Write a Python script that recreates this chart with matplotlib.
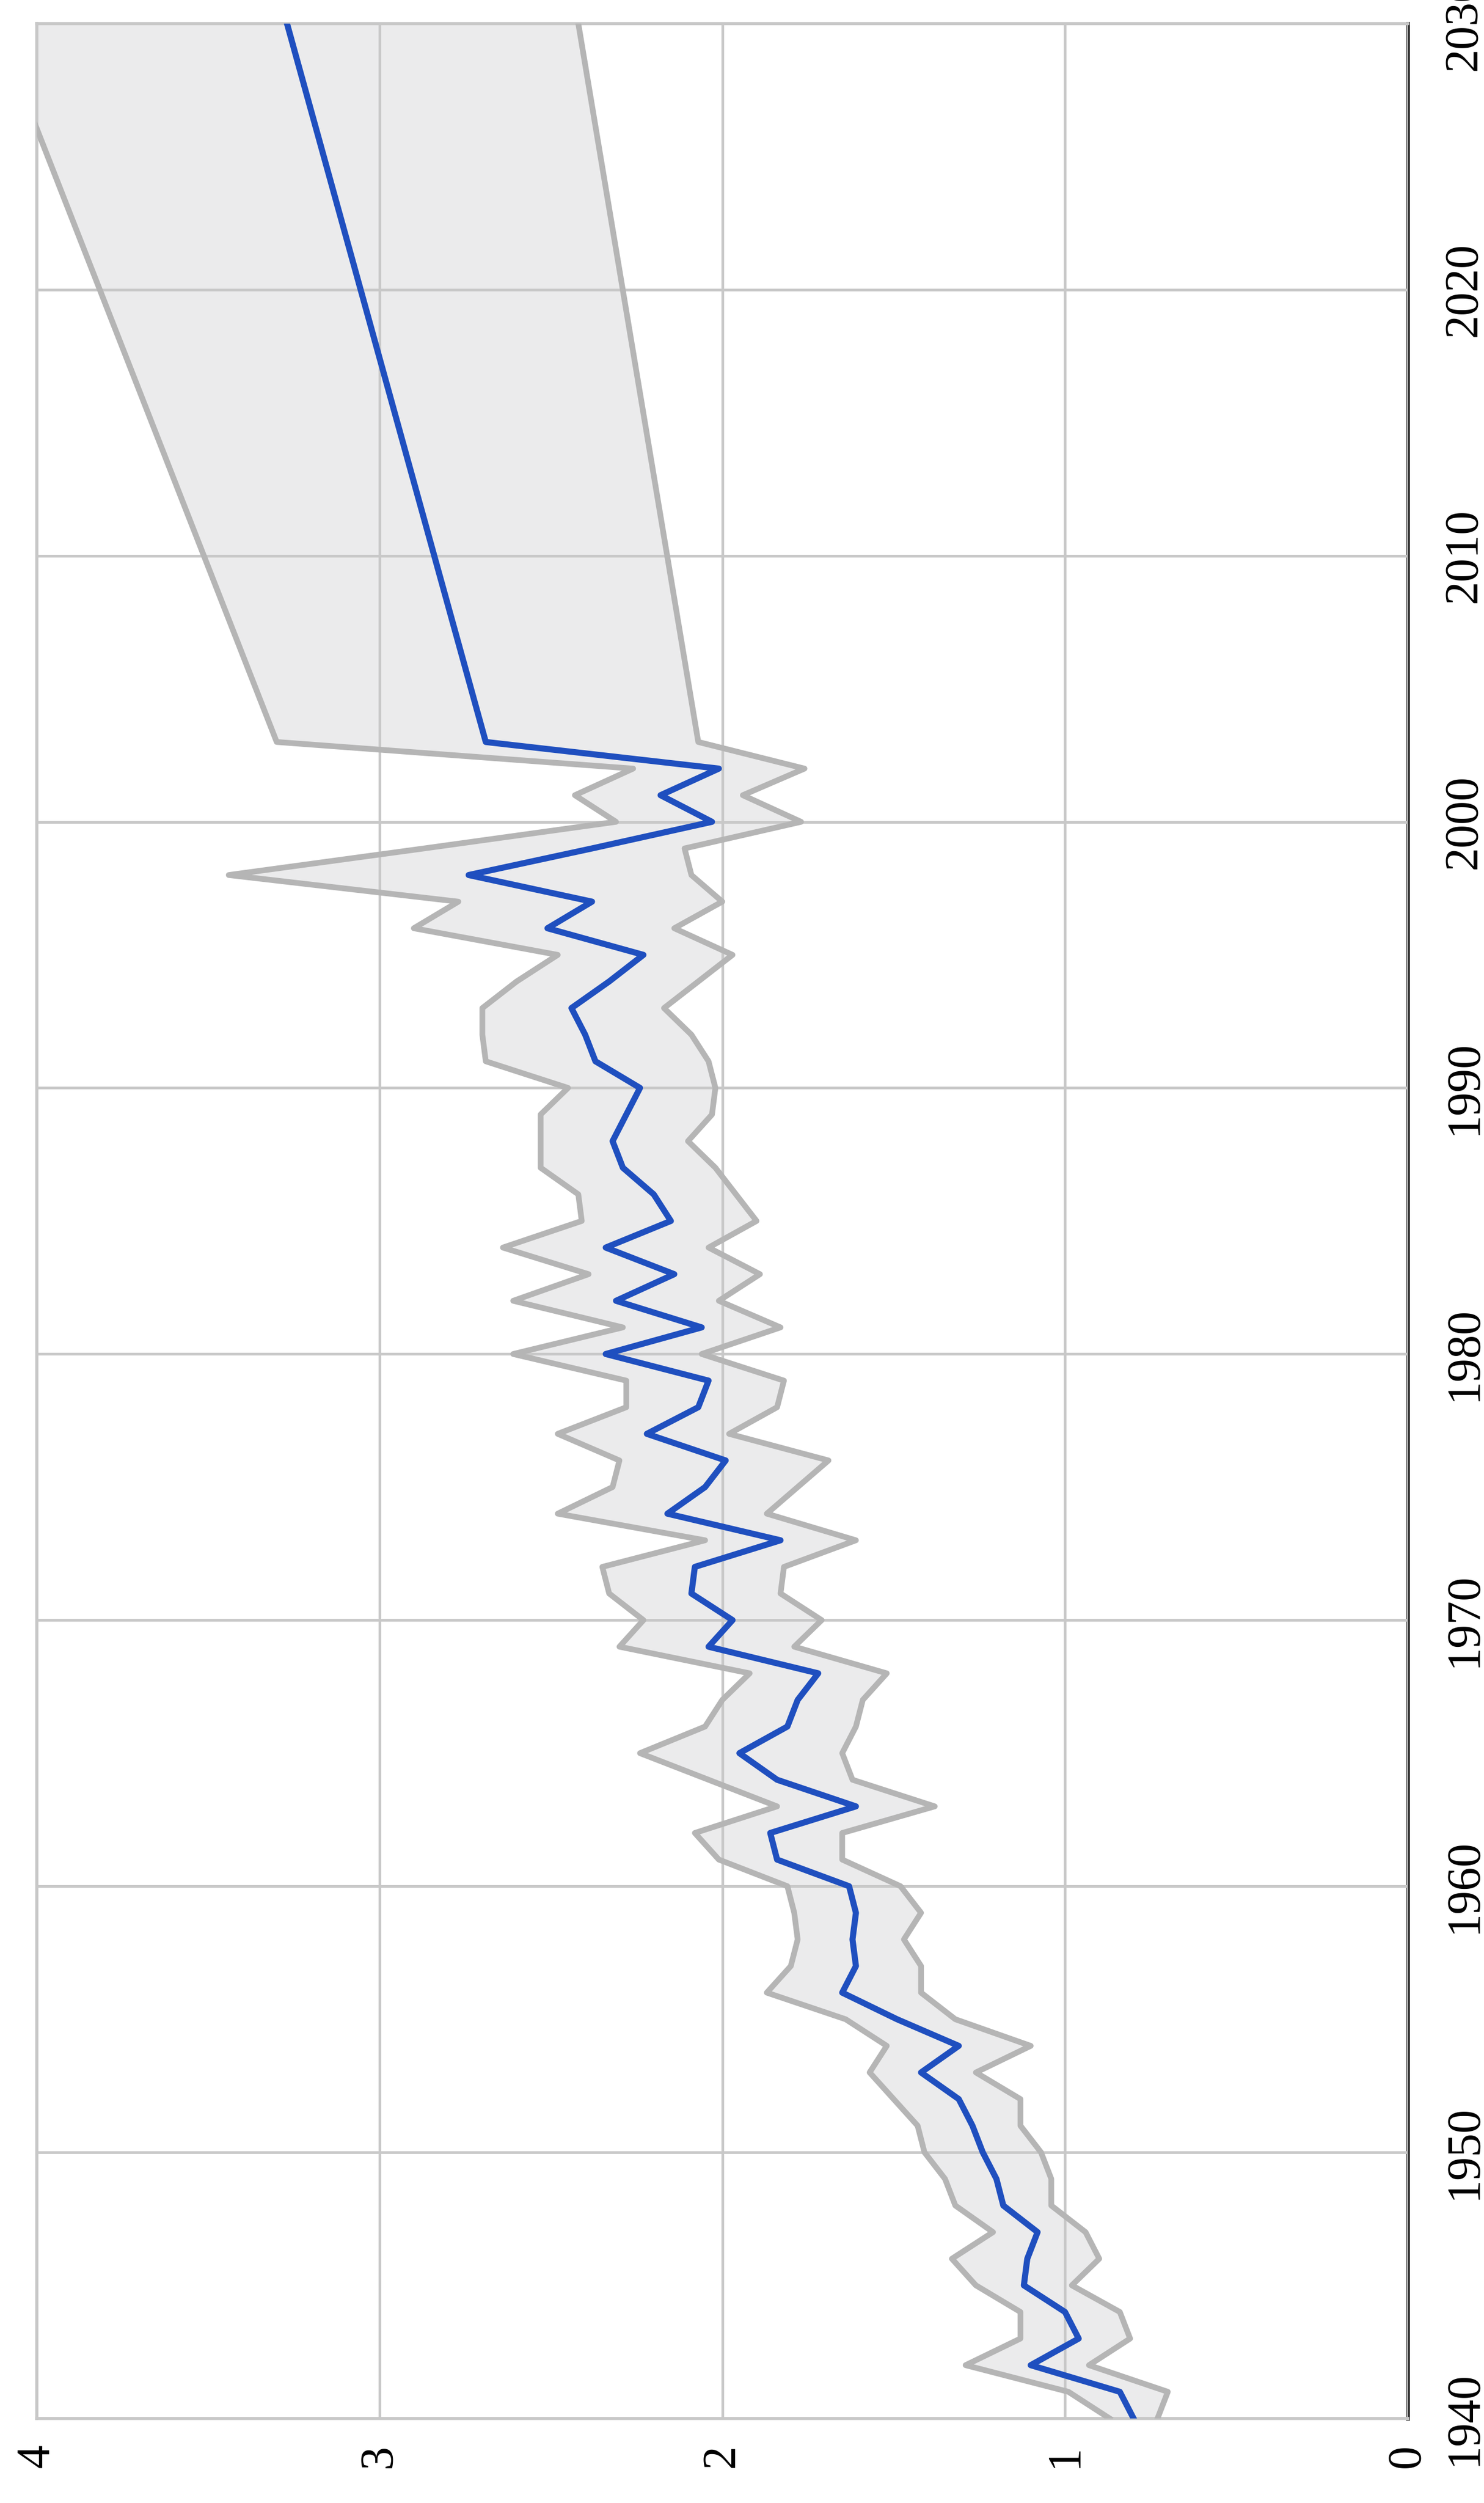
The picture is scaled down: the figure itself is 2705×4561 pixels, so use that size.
import numpy as np
import matplotlib
matplotlib.use("Agg")
from matplotlib import pyplot as plt

# yearly values 1940-2003, then the projection point 2030
years = list(range(1940, 2004)) + [2030]

mean = [0.80, 0.84, 1.10, 0.96, 1.00, 1.12, 1.11, 1.08, 1.18, 1.20,
        1.24, 1.27, 1.31, 1.42, 1.31, 1.49, 1.65, 1.61, 1.62, 1.61,
        1.63, 1.84, 1.86, 1.61, 1.84, 1.95, 1.81, 1.78, 1.72, 2.04,
        1.97, 2.09, 2.08, 1.83, 2.16, 2.05, 1.99, 2.22, 2.07, 2.04,
        2.34, 2.06, 2.31, 2.14, 2.34, 2.15, 2.20, 2.29, 2.32, 2.28,
        2.24, 2.37, 2.40, 2.44, 2.33, 2.23, 2.51, 2.38, 2.74, 2.38,
        2.03, 2.18, 2.01, 2.69, 3.27]

upper = [0.87, 0.99, 1.29, 1.13, 1.13, 1.26, 1.33, 1.21, 1.32, 1.35,
         1.41, 1.43, 1.50, 1.57, 1.52, 1.64, 1.87, 1.80, 1.78, 1.79,
         1.81, 2.01, 2.08, 1.84, 2.04, 2.24, 2.05, 2.00, 1.92, 2.30,
         2.23, 2.33, 2.35, 2.05, 2.48, 2.32, 2.30, 2.48, 2.28, 2.28,
         2.61, 2.29, 2.61, 2.39, 2.64, 2.41, 2.42, 2.53, 2.53, 2.53,
         2.45, 2.69, 2.70, 2.70, 2.60, 2.48, 2.90, 2.77, 3.44, 2.87,
         2.31, 2.43, 2.26, 3.30, 4.12]

lower = [0.73, 0.70, 0.93, 0.81, 0.84, 0.98, 0.90, 0.94, 1.04, 1.04,
         1.07, 1.13, 1.13, 1.26, 1.10, 1.32, 1.42, 1.42, 1.47, 1.42,
         1.48, 1.65, 1.65, 1.38, 1.62, 1.65, 1.61, 1.59, 1.52, 1.79,
         1.71, 1.83, 1.82, 1.61, 1.87, 1.78, 1.69, 1.98, 1.84, 1.82,
         2.06, 1.83, 2.01, 1.89, 2.04, 1.90, 1.96, 2.02, 2.10, 2.03,
         2.02, 2.04, 2.09, 2.17, 2.07, 1.97, 2.14, 2.00, 2.09, 2.11,
         1.77, 1.94, 1.76, 2.07, 2.42]

year_ticks = [1940, 1950, 1960, 1970, 1980, 1990, 2000, 2010, 2020, 2030]
value_ticks = [0, 1, 2, 3, 4]

plt.rcParams['font.family'] = 'serif'
plt.rcParams['font.serif'] = ['Liberation Serif', 'DejaVu Serif']

fig = plt.figure(figsize=(27.05, 45.61), dpi=100)
ax = fig.add_axes([0.0248, 0.0338, 0.9238, 0.9568])

# chart is drawn turned on its side: years run up, values run right-to-left
ax.fill_betweenx(years, lower, upper, color='#ebebec', lw=0, zorder=1)
ax.plot(upper, years, color='#b5b5b5', lw=7.5, zorder=3)
ax.plot(lower, years, color='#b5b5b5', lw=7.5, zorder=3)
ax.plot(mean, years, color='#1f4fbf', lw=8.0, zorder=4)

ax.set_xlim(4, 0)
ax.set_ylim(1940, 2030)
ax.set_xticks(value_ticks)
ax.set_yticks(year_ticks)
ax.set_xticklabels([str(v) for v in value_ticks], rotation=90)
ax.set_yticklabels([str(y) for y in year_ticks], rotation=90, va='center')
ax.yaxis.tick_right()
ax.tick_params(axis='both', length=0, labelsize=62)
ax.tick_params(axis='x', pad=34)
ax.tick_params(axis='y', pad=46)

ax.grid(True, color='#c8c8c8', lw=3.5, zorder=2)
ax.set_axisbelow(False)
for name in ['left', 'top', 'bottom']:
    ax.spines[name].set_color('#c8c8c8')
    ax.spines[name].set_linewidth(4)
ax.spines['right'].set_color('#333333')
ax.spines['right'].set_linewidth(5)

plt.savefig("out.png", dpi=100)
plt.close(fig)
